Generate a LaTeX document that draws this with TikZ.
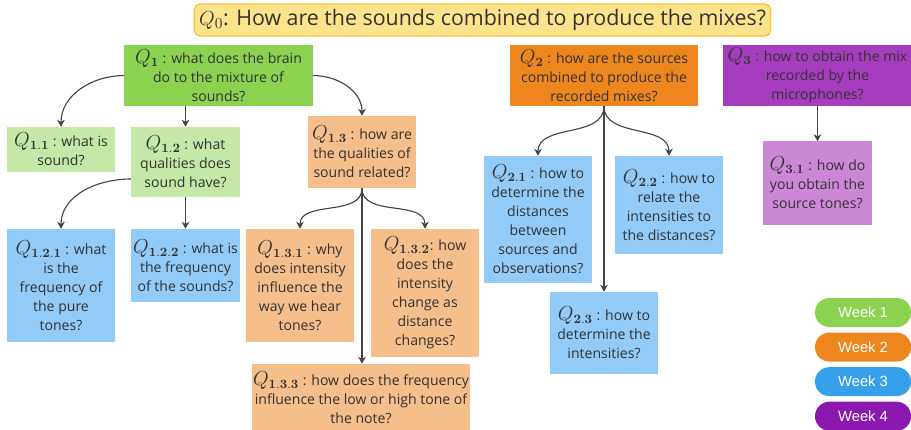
\documentclass[tikz,border=0pt]{standalone}
\usepackage[no-math]{fontspec}
\setmainfont{Open Sans}
\newfontfamily\weekfont{Liberation Sans}
\usepackage{amsmath}
\usetikzlibrary{arrows.meta, positioning}

\definecolor{yelfill}{RGB}{253,228,140}
\definecolor{yeldraw}{RGB}{245,195,60}
\definecolor{wkgreen}{RGB}{139,210,80}
\definecolor{wkgreenlt}{RGB}{197,232,168}
\definecolor{wkorange}{RGB}{238,134,30}
\definecolor{wkorangelt}{RGB}{245,190,138}
\definecolor{wkblue}{RGB}{55,160,235}
\definecolor{wkbluelt}{RGB}{146,203,248}
\definecolor{wkpurple}{RGB}{140,25,175}
\definecolor{wkpurplemid}{RGB}{165,60,190}
\definecolor{wkpurplelt}{RGB}{205,135,215}
\definecolor{arrgray}{RGB}{68,68,68}

\newcommand{\qlab}[1]{{\fontsize{13.5}{13.5}\selectfont$Q_{\mathbf{#1}}$}}

\begin{document}
\begin{tikzpicture}[
    x=0.025cm, y=-0.025cm,
    qbox/.style={rectangle, inner sep=1pt, align=center, text=black!80,
        font=\fontsize{10}{13.5}\selectfont},
    wide/.style={minimum width=4.7cm, minimum height=1.525cm},
    narrow/.style={minimum width=2.72cm},
    weekpill/.style={rectangle, rounded corners=0.36cm, minimum width=2.4cm,
        minimum height=0.725cm, text=white, font=\weekfont\fontsize{10.5}{12}\selectfont},
    arr/.style={-{Stealth[length=5pt, width=5.5pt]}, arrgray, line width=0.8pt}
]
\useasboundingbox (0,0) rectangle (911,429);

% main question
\node[rectangle, rounded corners=4pt, fill=yelfill, draw=yeldraw, line width=1pt,
      minimum width=14.25cm, minimum height=0.8cm, text=black!80,
      font=\fontsize{15.2}{18}\selectfont] (q0) at (482.5,20)
      {$Q_0$: How are the sounds combined to produce the mixes?};

% week 1
\node[qbox, wide, fill=wkgreen] (q1) at (218.5,75.5)
    {\qlab{1} : what does the brain\\do to the mixture of\\sounds?};
\node[qbox, narrow, minimum height=1.125cm, fill=wkgreenlt] (q11) at (61,149.5)
    {\qlab{1.1} : what is\\sound?};
\node[qbox, narrow, minimum height=1.75cm, fill=wkgreenlt] (q12) at (185.5,162)
    {\qlab{1.2} : what\\qualities does\\sound have?};
\node[qbox, narrow, minimum height=1.8cm, fill=wkorangelt] (q13) at (362,152)
    {\qlab{1.3} : how are\\the qualities of\\sound related?};

\node[qbox, narrow, minimum height=2.825cm, fill=wkbluelt] (q121) at (61,285.5)
    {\qlab{1.2.1} : what\\is the\\frequency of\\the pure\\tones?};
\node[qbox, narrow, minimum height=1.825cm, fill=wkbluelt] (q122) at (185.5,265.5)
    {\qlab{1.2.2} : what is\\the frequency\\of the sounds?};
\node[qbox, narrow, minimum height=2.825cm, fill=wkorangelt] (q131) at (300,285.5)
    {\qlab{1.3.1} : why\\does intensity\\influence the\\way we hear\\tones?};
\node[qbox, narrow, minimum height=3.2cm, fill=wkorangelt] (q132) at (425,293)
    {\qlab{1.3.2}: how\\does the\\intensity\\change as\\distance\\changes?};
\node[qbox, minimum width=5.45cm, minimum height=1.7cm, fill=wkorangelt] (q133) at (361,398)
    {\qlab{1.3.3} : how does the frequency\\influence the low or high tone of\\the note?};

% week 2
\node[qbox, wide, fill=wkorange] (q2) at (604,75.5)
    {\qlab{2} : how are the sources\\combined to produce the\\recorded mixes?};
\node[qbox, narrow, minimum height=3.175cm, fill=wkbluelt] (q21) at (538,219.5)
    {\qlab{2.1} : how to\\determine the\\distances\\between\\sources and\\observations?};
\node[qbox, narrow, minimum height=2.45cm, fill=wkbluelt] (q22) at (669,205)
    {\qlab{2.2} : how to\\relate the\\intensities to\\the distances?};
\node[qbox, narrow, minimum height=2.05cm, fill=wkbluelt] (q23) at (604,333)
    {\qlab{2.3} : how to\\determine the\\intensities?};

% week 4
\node[qbox, wide, fill=wkpurplemid] (q3) at (817.5,75.5)
    {\qlab{3} : how to obtain the mix\\recorded by the\\microphones?};
\node[qbox, narrow, minimum height=2.075cm, fill=wkpurplelt] (q31) at (817.5,183)
    {\qlab{3.1} : how do\\you obtain the\\source tones?};

% connectors
\draw[arr] (q1.west) to[out=180, in=90] (q11.north);
\draw[arr] (q12.north|-q1.south) -- (q12.north);
\draw[arr] (q1.east) to[out=0, in=90] (q13.north);
\draw[arr] ([yshift=-0.425cm]q12.west) to[out=180, in=90] (q121.north);
\draw[arr] (q12.south) -- (q122.north);
\draw[arr] (q13.south) to[out=-90, in=90] (q131.north);
\draw[arr] (q13.south) to[out=-90, in=90] (q132.north);
\draw[arr] (q13.south) -- (q13.south|-q133.north);
\draw[arr] (q2.south) to[out=-90, in=90] (q21.north);
\draw[arr] (q2.south) to[out=-90, in=90] (q22.north);
\draw[arr] (q2.south) -- (q23.north);
\draw[arr] (q3.south) -- (q31.north);

% legend
\node[weekpill, fill=wkgreen] (wk1) at (863,312.5) {Week 1};
\node[weekpill, fill=wkorange, below=0.125cm of wk1] (wk2) {Week 2};
\node[weekpill, fill=wkblue, below=0.125cm of wk2] (wk3) {Week 3};
\node[weekpill, fill=wkpurple, below=0.125cm of wk3] (wk4) {Week 4};
\end{tikzpicture}
\end{document}
